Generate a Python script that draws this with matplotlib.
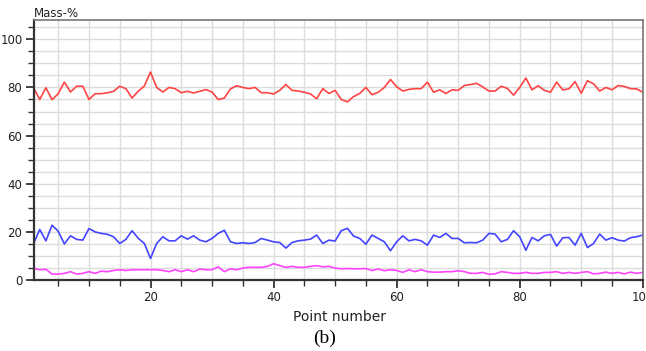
import numpy as np
from matplotlib import pyplot as plt
from matplotlib.ticker import MultipleLocator

# point numbers 1..100
points = list(range(1, 101))

# main component (red), mass-%
red_vals = [
    79.7, 75.0, 79.9, 74.9, 77.4, 82.2, 78.1, 80.5, 80.5, 75.0,
    77.4, 77.4, 77.8, 78.4, 80.5, 79.5, 75.6, 78.4, 80.6, 86.4,
    80.0, 78.1, 80.0, 79.5, 77.8, 78.4, 77.7, 78.4, 79.1, 78.1,
    75.0, 75.6, 79.4, 80.7, 80.0, 79.5, 80.0, 77.8, 77.8, 77.3,
    78.8, 81.2, 78.8, 78.5, 78.0, 77.3, 75.3, 79.5, 77.5, 78.8,
    75.0, 74.0, 76.2, 77.5, 80.0, 77.0, 78.0, 80.0, 83.3, 80.3,
    78.5, 79.2, 79.5, 79.5, 82.2, 78.0, 79.0, 77.5, 79.0, 78.8,
    80.8, 81.2, 81.7, 80.2, 78.5, 78.5, 80.5, 79.6, 76.8, 80.0,
    83.9, 79.0, 80.7, 78.8, 78.0, 82.2, 79.0, 79.4, 82.4, 77.6,
    82.8, 81.5, 78.5, 80.0, 79.0, 80.8, 80.4, 79.5, 79.4, 78.0,
]

# second component (blue)
blue_vals = [
    15.2, 21.0, 16.3, 22.8, 20.3, 15.0, 18.4, 16.9, 16.6, 21.4,
    20.0, 19.4, 19.0, 18.0, 15.2, 16.9, 20.5, 17.4, 15.2, 9.0,
    15.2, 18.0, 16.3, 16.3, 18.4, 17.0, 18.4, 16.6, 15.9, 17.3,
    19.4, 20.7, 15.9, 15.2, 15.5, 15.2, 15.6, 17.3, 16.6, 15.9,
    15.6, 13.3, 15.6, 16.3, 16.6, 17.0, 18.7, 15.2, 16.6, 16.2,
    20.5, 21.5, 18.3, 17.3, 14.9, 18.7, 17.3, 15.9, 12.2, 15.9,
    18.4, 16.3, 16.9, 16.3, 14.5, 18.7, 17.7, 19.4, 17.3, 17.3,
    15.5, 15.6, 15.5, 16.6, 19.4, 19.1, 15.9, 16.9, 20.5, 18.0,
    12.4, 17.7, 16.3, 18.4, 19.0, 14.1, 17.6, 17.7, 14.5, 19.4,
    13.5, 15.2, 19.1, 16.6, 17.6, 16.6, 16.2, 17.6, 18.0, 18.7,
]

# minor component (magenta)
magenta_vals = [
    4.8, 4.3, 4.5, 2.5, 2.5, 2.8, 3.5, 2.5, 2.8, 3.5,
    2.8, 3.7, 3.5, 4.0, 4.3, 4.0, 4.3, 4.3, 4.3, 4.3,
    4.3, 4.0, 3.5, 4.3, 3.5, 4.3, 3.5, 4.6, 4.3, 4.3,
    5.5, 3.5, 4.7, 4.3, 5.0, 5.3, 5.3, 5.3, 5.7, 6.8,
    6.0, 5.3, 5.7, 5.3, 5.3, 5.7, 6.0, 5.5, 5.7, 5.0,
    4.7, 4.8, 4.7, 4.7, 4.8, 4.0, 4.6, 3.9, 4.3, 4.0,
    3.2, 4.3, 3.5, 4.3, 3.5, 3.3, 3.3, 3.5, 3.5, 3.9,
    3.5, 2.8, 2.8, 3.2, 2.4, 2.6, 3.5, 3.2, 2.8, 2.8,
    3.2, 2.8, 2.8, 3.2, 3.2, 3.5, 2.8, 3.2, 2.8, 3.2,
    3.5, 2.6, 2.8, 3.3, 2.8, 3.2, 2.6, 3.3, 2.8, 3.2,
]

fig = plt.figure(figsize=(6.46, 3.51), dpi=100)
ax = fig.add_axes([0.052, 0.202, 0.943, 0.741])

ax.plot(points, red_vals, color='#ff4444', lw=1.2)
ax.plot(points, blue_vals, color='#4444ff', lw=1.2)
ax.plot(points, magenta_vals, color='#ff44ff', lw=1.2)

ax.set_xlim(1, 100)
ax.set_ylim(0, 108)

ax.xaxis.set_major_locator(MultipleLocator(20))
ax.xaxis.set_minor_locator(MultipleLocator(5))
ax.yaxis.set_major_locator(MultipleLocator(20))
ax.yaxis.set_minor_locator(MultipleLocator(5))

ax.grid(which='both', color='#dcdcdc', lw=1)
ax.set_axisbelow(True)

ax.tick_params(which='major', direction='out', length=6, width=1.2,
               labelsize=8.5, pad=2, colors='#222222')
ax.tick_params(which='minor', direction='out', length=4, width=1, colors='#333333')
for lab in ax.get_xticklabels() + ax.get_yticklabels():
    lab.set_fontweight('medium')

for side in ['left', 'bottom']:
    ax.spines[side].set_color('#333333')
    ax.spines[side].set_linewidth(1.6)
for side in ['top', 'right']:
    ax.spines[side].set_color('#777777')
    ax.spines[side].set_linewidth(1.2)

fig.text(0.053, 0.962, 'Mass-%', fontsize=8.5, color='#222222', va='center', ha='left')
fig.text(0.526, 0.097, 'Point number', fontsize=10, color='#222222', ha='center', va='center')
fig.text(0.503, 0.037, '(b)', fontsize=14, family='Liberation Serif', ha='center', va='center')

fig.savefig('out.png', dpi=100)
